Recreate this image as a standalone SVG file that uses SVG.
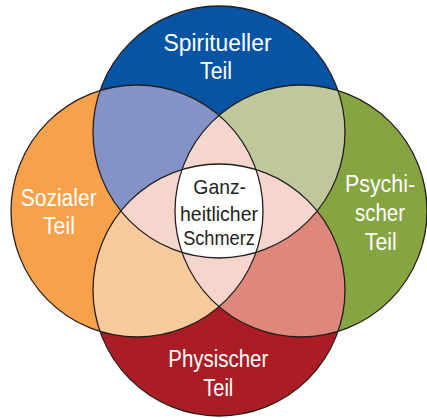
<svg xmlns="http://www.w3.org/2000/svg" width="427" height="418" viewBox="0 0 427 418">
  <style>
    .lbl { font-family: "Liberation Sans", Arial, sans-serif; font-size: 23px; fill: #ffffff; text-anchor: middle; }
    .ctr { font-family: "Liberation Sans", Arial, sans-serif; font-size: 21px; fill: #231f20; text-anchor: middle; }
    .ring { fill: none; stroke: #231f20; stroke-width: 1.3; }
  </style>
  <defs>
    <circle id="cT" cx="219" cy="132" r="126"/>
    <circle id="cL" cx="137" cy="211" r="126"/>
    <circle id="cR" cx="301" cy="211" r="126"/>
    <circle id="cB" cx="219" cy="290" r="126"/>
    <clipPath id="kT"><use href="#cT"/></clipPath>
    <clipPath id="kL"><use href="#cL"/></clipPath>
    <clipPath id="kB"><use href="#cB"/></clipPath>
  </defs>
  <rect width="427" height="418" fill="#ffffff"/>
  <g id="fills">
    <use href="#cT" fill="#0754a4"/>
    <use href="#cL" fill="#f7a14a"/>
    <use href="#cR" fill="#87a443"/>
    <use href="#cB" fill="#ab1d25"/>
    <g clip-path="url(#kT)">
      <use href="#cL" fill="#8492c6"/>
      <use href="#cR" fill="#bec89b"/>
    </g>
    <g clip-path="url(#kB)">
      <use href="#cL" fill="#f9ca9b"/>
      <use href="#cR" fill="#de877b"/>
    </g>
    <g clip-path="url(#kL)">
      <use href="#cR" fill="#f5d6cc"/>
    </g>
    <g clip-path="url(#kT)">
      <use href="#cB" fill="#f5d6cc"/>
    </g>
    <g clip-path="url(#kT)">
      <g clip-path="url(#kB)">
        <g clip-path="url(#kL)">
          <use href="#cR" fill="#ffffff"/>
        </g>
      </g>
    </g>
  </g>
  <g id="outlines">
    <use href="#cT" class="ring"/>
    <use href="#cL" class="ring"/>
    <use href="#cR" class="ring"/>
    <use href="#cB" class="ring"/>
  </g>
  <g id="spiritueller">
    <text class="lbl" x="217.5" y="51" textLength="108" lengthAdjust="spacingAndGlyphs">Spiritueller</text>
    <text class="lbl" x="216" y="79" textLength="32" lengthAdjust="spacingAndGlyphs">Teil</text>
  </g>
  <g id="sozialer">
    <text class="lbl" x="58.7" y="205.7" textLength="76" lengthAdjust="spacingAndGlyphs">Sozialer</text>
    <text class="lbl" x="58.9" y="234.3" textLength="32" lengthAdjust="spacingAndGlyphs">Teil</text>
  </g>
  <g id="psychischer">
    <text class="lbl" x="380" y="191.7" textLength="70" lengthAdjust="spacingAndGlyphs">Psychi-</text>
    <text class="lbl" x="380" y="220.5" textLength="50" lengthAdjust="spacingAndGlyphs">scher</text>
    <text class="lbl" x="380.8" y="250" textLength="32" lengthAdjust="spacingAndGlyphs">Teil</text>
  </g>
  <g id="physischer">
    <text class="lbl" x="218.3" y="367.3" textLength="100" lengthAdjust="spacingAndGlyphs">Physischer</text>
    <text class="lbl" x="218.3" y="396" textLength="30" lengthAdjust="spacingAndGlyphs">Teil</text>
  </g>
  <g id="ganzheitlicher-schmerz">
    <text class="ctr" x="219.7" y="194.3" textLength="52.7" lengthAdjust="spacingAndGlyphs">Ganz-</text>
    <text class="ctr" x="219" y="220.5" textLength="78" lengthAdjust="spacingAndGlyphs">heitlicher</text>
    <text class="ctr" x="219" y="244.5" textLength="71.7" lengthAdjust="spacingAndGlyphs">Schmerz</text>
  </g>
</svg>
